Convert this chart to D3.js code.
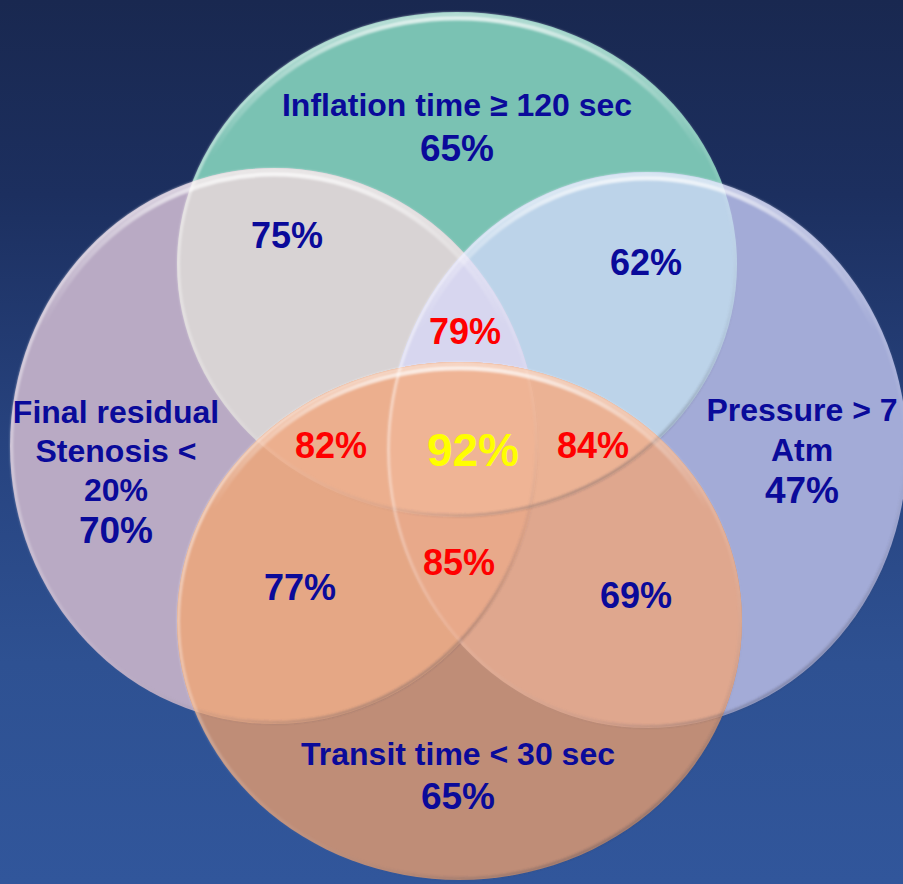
<!DOCTYPE html>
<html>
<head>
<meta charset="utf-8">
<script src="https://cdn.jsdelivr.net/npm/d3@7/dist/d3.min.js"></script>
<style>
  html, body { margin: 0; padding: 0; background: #1a2952; }
  svg { display: block; }
  text { font-family: "Liberation Sans", Arial, sans-serif; font-weight: bold; }
</style>
</head>
<body>
<svg id="chart" width="903" height="884"></svg>
<script>
// ---- data -------------------------------------------------------------
// The four success criteria (sets) and the share of each criterion alone.
const setKeys   = ["T", "L", "R", "B"];
const setLabels = [
  ["Inflation time \u2265 120 sec"],
  ["Final residual", "Stenosis <", "20%"],
  ["Pressure > 7", "Atm"],
  ["Transit time < 30 sec"]
];
const setValues = [65, 70, 47, 65];

// Combined criteria (overlap regions) and their percentages.
const regionKeys   = ["TL", "TR", "TLR", "TLB", "TLRB", "TRB", "LRB", "LB", "RB"];
const regionValues = [75, 62, 79, 82, 92, 84, 85, 77, 69];

// ---- layout (design units, mapped through scales) ---------------------
const W = 903, H = 884;
const x = d3.scaleLinear().domain([0, 903]).range([0, W]);
const y = d3.scaleLinear().domain([0, 884]).range([0, H]);
const rx = d3.scaleLinear().domain([0, 903]).range([0, W]);
const ry = d3.scaleLinear().domain([0, 884]).range([0, H]);

// ellipse geometry of each set, same order as setKeys
const shapes = {
  T: { cx: 457,   cy: 264.5, rx: 280,   ry: 252.5 },
  L: { cx: 274,   cy: 446,   rx: 264,   ry: 278 },
  R: { cx: 647,   cy: 450,   rx: 260,   ry: 278 },
  B: { cx: 459.5, cy: 621,   rx: 282.5, ry: 259 }
};

// fill of each visible combination (painted from single sets up to all four)
const regionFill = {
  T: "#7ac2b3", L: "#b9aac4", R: "#a3abd7", B: "#bf8d77",
  TL: "#d8d3d4", TR: "#bcd3e9", LR: "#cfc8e6", TB: "#e0b8a0",
  LB: "#e5a785", RB: "#dfa78e",
  TLR: "#d7d6ef", TLB: "#ecaf8e", TRB: "#ebb294", LRB: "#e8a98a",
  TLRB: "#efb495"
};

// label anchors: [x centre, baseline]
const setLabelPos = {
  T: { x: 457, y: [116], vy: 161 },
  L: { x: 116, y: [423, 462, 501], vy: 543 },
  R: { x: 802, y: [421, 461], vy: 503 },
  B: { x: 458, y: [765], vy: 809 }
};
const regionLabelPos = {
  TL: [287, 248], TR: [646, 275], TLR: [465, 344],
  TLB: [331, 458], TLRB: [473, 466], TRB: [593, 458],
  LRB: [459, 575], LB: [300, 600], RB: [636, 608]
};

// ---- drawing ---------------------------------------------------------
const svg = d3.select("#chart");
const defs = svg.append("defs");

// background
const bg = defs.append("linearGradient").attr("id", "bg")
  .attr("x1", 0).attr("y1", 0).attr("x2", 0).attr("y2", 1);
[["0%", "#192850"], ["22%", "#1c2f5f"], ["50%", "#27437f"], ["75%", "#2e5192"], ["100%", "#31569b"]]
  .forEach(([o, c]) => bg.append("stop").attr("offset", o).attr("stop-color", c));
svg.append("rect").attr("width", W).attr("height", H).attr("fill", "url(#bg)");

function ellipseAttrs(sel, s, inset = 0) {
  return sel.attr("cx", x(s.cx)).attr("cy", y(s.cy))
    .attr("rx", rx(s.rx) - inset).attr("ry", ry(s.ry) - inset);
}

// clip path per set
setKeys.forEach(k => {
  ellipseAttrs(defs.append("clipPath").attr("id", "clip-" + k).append("ellipse"), shapes[k]);
});

// every non-empty combination, ordered by size so larger overlaps paint on top
const combos = [];
for (let m = 1; m < 16; m++) {
  combos.push(setKeys.filter((_, i) => m & (1 << i)));
}
combos.sort((a, b) => a.length - b.length);

const fills = svg.append("g").attr("class", "regions");
combos.forEach(members => {
  const key = members.join("");
  let g = fills;
  members.slice(0, -1).forEach(k => { g = g.append("g").attr("clip-path", `url(#clip-${k})`); });
  ellipseAttrs(g.append("ellipse"), shapes[members[members.length - 1]])
    .attr("fill", regionFill[key]);
});

// glassy rims: light on the upper-left, gently shaded on the lower-right
const rimGrad = defs.append("linearGradient").attr("id", "rim")
  .attr("x1", 0.2).attr("y1", 0).attr("x2", 0.8).attr("y2", 1);
[["0%", "#ffffff", 0.6], ["40%", "#ffffff", 0.3], ["62%", "#ffffff", 0.08],
 ["82%", "#505060", 0.12], ["100%", "#3a3a48", 0.45]]
  .forEach(([o, c, a]) => rimGrad.append("stop").attr("offset", o).attr("stop-color", c).attr("stop-opacity", a));

const glowGrad = defs.append("linearGradient").attr("id", "glow")
  .attr("x1", 0).attr("y1", 0).attr("x2", 0).attr("y2", 1);
[["0%", "#ffffff", 0.75], ["10%", "#ffffff", 0.4], ["28%", "#ffffff", 0.0], ["100%", "#ffffff", 0.0]]
  .forEach(([o, c, a]) => glowGrad.append("stop").attr("offset", o).attr("stop-color", c).attr("stop-opacity", a));

defs.append("filter").attr("id", "soft").attr("x", "-5%").attr("y", "-5%").attr("width", "110%").attr("height", "110%")
  .append("feGaussianBlur").attr("stdDeviation", 1.2);

const rims = svg.append("g").attr("class", "rims");
setKeys.forEach(k => {
  ellipseAttrs(rims.append("ellipse"), shapes[k], 6)
    .attr("fill", "none").attr("stroke", "url(#glow)").attr("stroke-width", 5)
    .attr("filter", "url(#soft)");
  ellipseAttrs(rims.append("ellipse"), shapes[k], 1.5)
    .attr("fill", "none").attr("stroke", "url(#rim)").attr("stroke-width", 3)
    .attr("filter", "url(#soft)");
});

// ---- labels ----------------------------------------------------------
const navy = "#0a0a9a";
const labels = svg.append("g").attr("class", "labels").attr("text-anchor", "middle");

setKeys.forEach((k, i) => {
  const p = setLabelPos[k];
  setLabels[i].forEach((line, j) => {
    labels.append("text").attr("x", x(p.x)).attr("y", y(p.y[j]))
      .attr("font-size", 32).attr("fill", navy).text(line);
  });
  labels.append("text").attr("x", x(p.x)).attr("y", y(p.vy))
    .attr("font-size", 37).attr("fill", navy).text(setValues[i] + "%");
});

regionKeys.forEach((k, i) => {
  const [px, py] = regionLabelPos[k];
  const deg = k.length;
  const fill = deg === 4 ? "#ffff00" : deg === 3 ? "#ff0000" : navy;
  labels.append("text").attr("x", x(px)).attr("y", y(py))
    .attr("font-size", deg === 4 ? 46 : 36).attr("fill", fill)
    .text(regionValues[i] + "%");
});
</script>
</body>
</html>
